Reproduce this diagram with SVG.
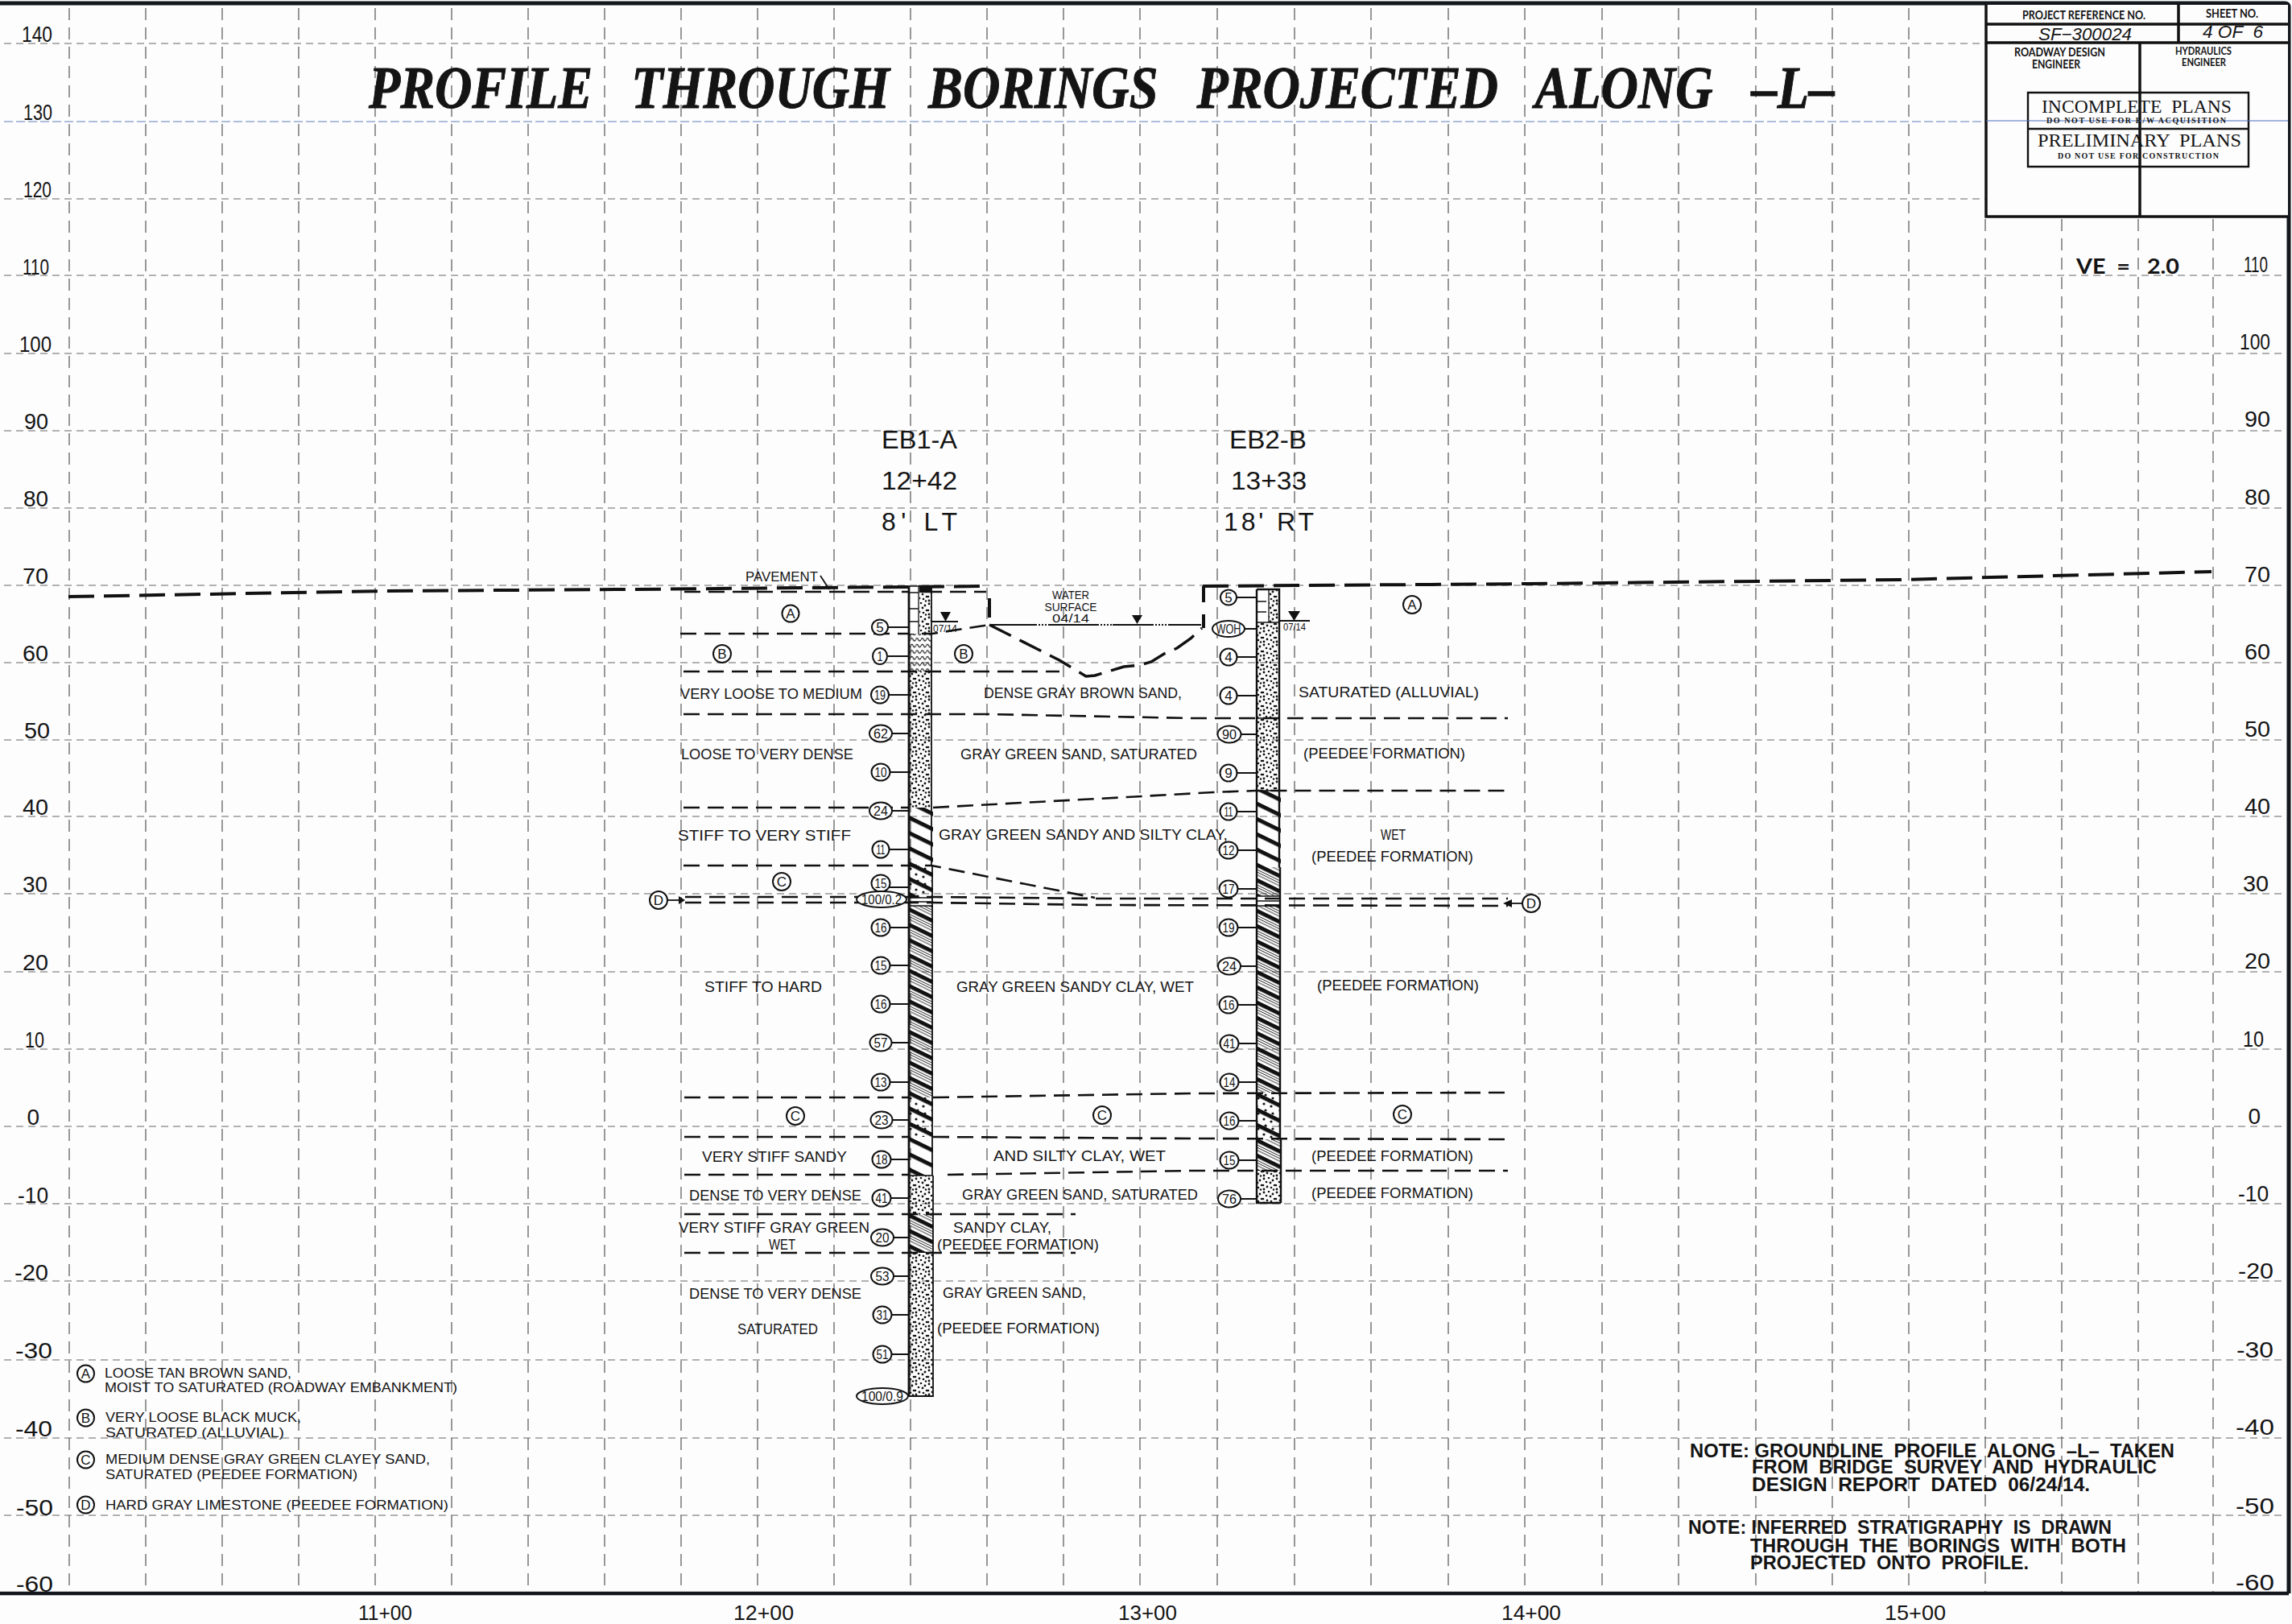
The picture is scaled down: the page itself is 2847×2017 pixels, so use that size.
<svg xmlns="http://www.w3.org/2000/svg" width="2847" height="2017" viewBox="0 0 2847 2017">
<style>
text{font-family:"Liberation Sans",Arial,sans-serif;fill:#141414;white-space:pre}
.gh{stroke:#666;stroke-width:1.2;stroke-dasharray:9 6;fill:none}
.gv{stroke:#555;stroke-width:1.2;stroke-dasharray:15 9;fill:none}
.s{stroke:#111;stroke-width:2.6;stroke-dasharray:20 10;fill:none}
.gr{stroke:#111;stroke-width:4;stroke-dasharray:32 12;fill:none}
.b{stroke:#111;fill:none}
.ax{font-size:28px}
.st{font-size:26px}
.lab{font-size:19px}
.sm{font-size:17px}
.bl{font-size:32px}
.c{font-size:17px;text-anchor:middle}
.cir{fill:#fff;stroke:#111;stroke-width:2}
.lead{stroke:#111;stroke-width:1.8}
.fut{font-family:Lato,"Liberation Sans",sans-serif;font-weight:700}
.ser{font-family:"Liberation Serif",serif;font-weight:700}
</style>
<defs>
<pattern id="dots" width="16" height="17" patternUnits="userSpaceOnUse">
<g fill="#111"><circle cx="2" cy="2" r="1.4"/><circle cx="8" cy="1" r="1.3"/><circle cx="13" cy="4" r="1.4"/><circle cx="5" cy="6" r="1.3"/><circle cx="10" cy="7" r="1.4"/><circle cx="1" cy="10" r="1.3"/><circle cx="15" cy="10" r="1.3"/><circle cx="6" cy="12" r="1.4"/><circle cx="11" cy="13" r="1.3"/><circle cx="2" cy="15" r="1.4"/><circle cx="14" cy="15.5" r="1.2"/></g>
</pattern>
<pattern id="sparse" width="18" height="19" patternUnits="userSpaceOnUse">
<g fill="#111"><circle cx="4" cy="3" r="1.6"/><circle cx="13" cy="6" r="1.6"/><circle cx="6" cy="11" r="1.6"/><circle cx="15" cy="15" r="1.6"/></g>
</pattern>
<pattern id="thick" width="30" height="19" patternUnits="userSpaceOnUse" patternTransform="skewY(26)">
<rect y="6" width="30" height="5.500" fill="#111"/>
</pattern>
<pattern id="mix" width="30" height="19" patternUnits="userSpaceOnUse" patternTransform="skewY(26)">
<rect y="6" width="30" height="5.500" fill="#111"/><rect y="14" width="30" height="0.900" fill="#111"/><rect y="17" width="30" height="0.900" fill="#111"/><rect y="1.500" width="30" height="0.900" fill="#111"/>
</pattern>
<pattern id="wave" width="6.500" height="7.600" patternUnits="userSpaceOnUse">
<path d="M0 4Q1.600 0.500 3.250 4T6.500 4" fill="none" stroke="#111" stroke-width="1.200"/>
</pattern>
</defs>
<rect width="2847" height="2017" fill="#fdfdfe"/>

<g id="grid">
<path class="gh" d="M5 54H2467M5 247H2467M5 342H2840M5 439H2840M5 535H2840M5 631H2840M5 727H2840M5 823H2840M5 919H2840M5 1014H2840M5 1110H2840M5 1207H2840M5 1303H2840M5 1399H2840M5 1495H2840M5 1591H2840M5 1689H2840M5 1786H2840M5 1882H2840"/>
<path d="M5 151H2467" fill="none" stroke="#5f7fb5" stroke-width="1.200" stroke-dasharray="11 4"/>
<path d="M2467 150H2840" fill="none" stroke="#4a6fc0" stroke-width="1.200"/>
<path class="gv" d="M86 10V1977M181 10V1977M276 10V1977M371 10V1977M466 10V1977M561 10V1977M656 10V1977M751 10V1977M846 10V1977M941 10V1977M1036 10V1977M1131 10V1977M1226 10V1977M1321 10V1977M1416 10V1977M1512 10V1977M1608 10V1977M1703 10V1977M1799 10V1977M1894 10V1977M1990 10V1977M2085 10V1977M2181 10V1977M2276 10V1977M2371 10V1977M2466 272V1977M2561 272V1977M2656 272V1977M2749 272V1977"/>
</g>

<g id="frame" fill="none" stroke="#14181c">
<path d="M0 4H2838Q2843 4 2843 9V1979" stroke-width="5"/>
<path d="M0 1979H2843" stroke-width="4.500"/>
</g>

<g id="title-block">
<rect x="2467" y="6" width="375" height="263" fill="#fdfdfe" stroke="none"/>
<path class="b" stroke-width="3.500" d="M2467 6V269H2842M2467 30H2842M2467 53H2842M2706 6V53M2658 53V269"/>
<path d="M2519 115H2793V207H2519ZM2519 160H2793" fill="none" stroke="#111" stroke-width="2.400"/>
<path d="M2467 150H2842" fill="none" stroke="#4a6fc0" stroke-width="1.200"/>
<text class="fut" x="2512" y="24" font-size="15" textLength="153" lengthAdjust="spacingAndGlyphs">PROJECT REFERENCE NO.</text>
<text class="fut" x="2740" y="22" font-size="15" textLength="65" lengthAdjust="spacingAndGlyphs">SHEET NO.</text>
<text x="2532" y="50" font-size="22" font-style="italic" textLength="116" lengthAdjust="spacingAndGlyphs">SF−300024</text>
<text x="2736" y="47" font-size="22" font-style="italic" textLength="75" lengthAdjust="spacingAndGlyphs">4 OF  6</text>
<text class="fut" x="2502" y="70" font-size="15" textLength="113" lengthAdjust="spacingAndGlyphs">ROADWAY DESIGN</text>
<text class="fut" x="2524" y="85" font-size="15" textLength="60" lengthAdjust="spacingAndGlyphs">ENGINEER</text>
<text class="fut" x="2702" y="68" font-size="14" textLength="70" lengthAdjust="spacingAndGlyphs">HYDRAULICS</text>
<text class="fut" x="2710" y="82" font-size="14" textLength="55" lengthAdjust="spacingAndGlyphs">ENGINEER</text>
<text x="2536" y="140" font-size="23" style="font-family:'Liberation Serif',serif" textLength="236" lengthAdjust="spacingAndGlyphs">INCOMPLETE  PLANS</text>
<text class="ser" x="2542" y="153" font-size="10" textLength="223" lengthAdjust="spacing">DO NOT USE FOR R/W ACQUISITION</text>
<text x="2531" y="182" font-size="23" style="font-family:'Liberation Serif',serif" textLength="253" lengthAdjust="spacingAndGlyphs">PRELIMINARY  PLANS</text>
<text class="ser" x="2556" y="197" font-size="10" textLength="200" lengthAdjust="spacing">DO NOT USE FOR CONSTRUCTION</text>
</g>

<text id="title" x="458" y="134" font-size="74" font-weight="700" font-style="italic" stroke="#141414" stroke-width="1" style="font-family:'Liberation Serif',serif" textLength="1821" lengthAdjust="spacingAndGlyphs">PROFILE   THROUGH   BORINGS   PROJECTED   ALONG   –L–</text>
<text id="ve" class="fut" x="2579" y="340" font-size="27" textLength="128" lengthAdjust="spacingAndGlyphs">VE  =   2.0</text>

<g id="elevations-left" class="ax" text-anchor="end">
<text x="65" y="52" textLength="38" lengthAdjust="spacingAndGlyphs">140</text>
<text x="65" y="149" textLength="36" lengthAdjust="spacingAndGlyphs">130</text>
<text x="64" y="245" textLength="35" lengthAdjust="spacingAndGlyphs">120</text>
<text x="61" y="341" textLength="33" lengthAdjust="spacingAndGlyphs">110</text>
<text x="64" y="437" textLength="40" lengthAdjust="spacingAndGlyphs">100</text>
<text x="60" y="533" textLength="30" lengthAdjust="spacingAndGlyphs">90</text>
<text x="60" y="629" textLength="31" lengthAdjust="spacingAndGlyphs">80</text>
<text x="60" y="725" textLength="32" lengthAdjust="spacingAndGlyphs">70</text>
<text x="60" y="821" textLength="32" lengthAdjust="spacingAndGlyphs">60</text>
<text x="62" y="917" textLength="32" lengthAdjust="spacingAndGlyphs">50</text>
<text x="60" y="1012" textLength="32" lengthAdjust="spacingAndGlyphs">40</text>
<text x="59" y="1108" textLength="31" lengthAdjust="spacingAndGlyphs">30</text>
<text x="60" y="1205" textLength="32" lengthAdjust="spacingAndGlyphs">20</text>
<text x="55" y="1301" textLength="24" lengthAdjust="spacingAndGlyphs">10</text>
<text x="49" y="1397" textLength="16">0</text>
<text x="60" y="1494" textLength="38" lengthAdjust="spacingAndGlyphs">-10</text>
<text x="60" y="1590" textLength="42" lengthAdjust="spacingAndGlyphs">-20</text>
<text x="65" y="1687" textLength="46" lengthAdjust="spacingAndGlyphs">-30</text>
<text x="65" y="1784" textLength="46" lengthAdjust="spacingAndGlyphs">-40</text>
<text x="66" y="1882" textLength="46" lengthAdjust="spacingAndGlyphs">-50</text>
<text x="66" y="1977" textLength="46" lengthAdjust="spacingAndGlyphs">-60</text>
</g>
<g id="elevations-right" class="ax" text-anchor="end">
<text x="2817" y="338" textLength="30" lengthAdjust="spacingAndGlyphs">110</text>
<text x="2820" y="434" textLength="38" lengthAdjust="spacingAndGlyphs">100</text>
<text x="2820" y="530" textLength="32" lengthAdjust="spacingAndGlyphs">90</text>
<text x="2820" y="627" textLength="32" lengthAdjust="spacingAndGlyphs">80</text>
<text x="2820" y="723" textLength="32" lengthAdjust="spacingAndGlyphs">70</text>
<text x="2820" y="819" textLength="32" lengthAdjust="spacingAndGlyphs">60</text>
<text x="2820" y="915" textLength="32" lengthAdjust="spacingAndGlyphs">50</text>
<text x="2820" y="1011" textLength="32" lengthAdjust="spacingAndGlyphs">40</text>
<text x="2818" y="1107" textLength="32" lengthAdjust="spacingAndGlyphs">30</text>
<text x="2820" y="1203" textLength="32" lengthAdjust="spacingAndGlyphs">20</text>
<text x="2812" y="1300" textLength="26" lengthAdjust="spacingAndGlyphs">10</text>
<text x="2808" y="1396" textLength="16">0</text>
<text x="2818" y="1492" textLength="38" lengthAdjust="spacingAndGlyphs">-10</text>
<text x="2824" y="1588" textLength="44" lengthAdjust="spacingAndGlyphs">-20</text>
<text x="2824" y="1686" textLength="46" lengthAdjust="spacingAndGlyphs">-30</text>
<text x="2825" y="1782" textLength="48" lengthAdjust="spacingAndGlyphs">-40</text>
<text x="2825" y="1880" textLength="48" lengthAdjust="spacingAndGlyphs">-50</text>
<text x="2825" y="1975" textLength="48" lengthAdjust="spacingAndGlyphs">-60</text>
</g>
<g id="stations" class="st">
<text x="445" y="2012" textLength="67" lengthAdjust="spacingAndGlyphs">11+00</text>
<text x="911" y="2012" textLength="75" lengthAdjust="spacingAndGlyphs">12+00</text>
<text x="1389" y="2012" textLength="73" lengthAdjust="spacingAndGlyphs">13+00</text>
<text x="1865" y="2012" textLength="74" lengthAdjust="spacingAndGlyphs">14+00</text>
<text x="2341" y="2012" textLength="76" lengthAdjust="spacingAndGlyphs">15+00</text>
</g>

<g id="connectors">
<path class="gr" d="M85 741L480 734L780 732L1229 728"/>
<path class="gr" stroke-dasharray="none" d="M1229 743V767"/>
<path class="gr" d="M1494 728L1900 725L2360 720L2747 710"/>
<path class="gr" stroke-dasharray="none" d="M1495 728V748M1495 763V780"/>
<path class="gr" style="stroke-width:3.400;stroke-dasharray:30 12" d="M1229 776L1316 820L1349 840L1360 839L1396 828L1416 826L1430 822L1446 812L1462 805L1479 793L1493 780"/>
<path stroke="#111" stroke-width="1.800" d="M1229 776H1492"/>
<path stroke="#fdfdfe" stroke-width="2" stroke-dasharray="2 2" d="M1288 776H1302M1365 776H1382M1433 776H1452"/>
<path d="M1406 764H1419L1412.500 775Z" fill="#111"/>
<path class="s" d="M850 735H1225"/>
<path class="s" d="M845 787H1158L1229 776"/>
<path class="s" d="M849 834H1316"/>
<path class="s" d="M849 887H1226L1480 892H1873"/>
<path class="s" d="M849 1003H1130M1159 1003L1400 990L1507 984L1560 982H1873"/>
<path class="s" d="M849 1075H1157L1360 1115"/>
<path class="s" d="M851 1114H1159L1360 1116H1873"/>
<path class="s" d="M851 1121H1159L1360 1124L1873 1125"/>
<path class="s" d="M850 1363H1130M1159 1363L1480 1358L1873 1357"/>
<path class="s" d="M850 1412H1130M1159 1412L1480 1414L1873 1415"/>
<path class="s" d="M850 1459H1130M1177 1459L1480 1454H1873"/>
<path class="s" d="M850 1508H1336"/>
<path class="s" d="M850 1556H1336"/>
<path class="lead" d="M1019 715L1030 732"/>
<path class="lead" d="M828 1118H846"/><path d="M851 1118L843 1113V1123Z" fill="#111"/>
<path class="lead" d="M1892 1122H1874"/><path d="M1867 1122L1878 1117V1127Z" fill="#111"/>
</g>

<g id="boring-EB1-A">
<rect x="1129" y="728" width="13" height="59" fill="#fff"/>
<rect x="1142" y="728" width="15" height="59" fill="url(#dots)"/>
<rect x="1142" y="728" width="15" height="8" fill="#111"/>
<rect x="1129" y="787" width="28" height="47" fill="url(#wave)"/>
<rect x="1129" y="834" width="28" height="169" fill="url(#dots)"/>
<rect x="1129" y="1003" width="30" height="72" fill="url(#thick)"/>
<rect x="1129" y="1075" width="30" height="40" fill="url(#thick)"/>
<rect x="1129" y="1075" width="28" height="40" fill="url(#sparse)"/>
<rect x="1129" y="1125" width="30" height="238" fill="url(#mix)"/>
<rect x="1129" y="1363" width="30" height="49" fill="url(#thick)"/>
<rect x="1129" y="1363" width="29" height="49" fill="url(#sparse)"/>
<rect x="1129" y="1412" width="30" height="48" fill="url(#thick)"/>
<rect x="1129" y="1460" width="29" height="48" fill="url(#dots)"/>
<rect x="1129" y="1508" width="30" height="48" fill="url(#mix)"/>
<rect x="1129" y="1556" width="30" height="178" fill="url(#dots)"/>
<path class="b" stroke-width="2.800" d="M1129 728V1734"/>
<path class="b" stroke-width="1.800" d="M1157 728V1075M1158 1075V1460M1159 1460V1734H1129"/>
<path class="b" stroke-width="1.300" d="M1129 728H1157M1141 728V787M1129 736H1141M1129 756H1141M1129 772H1141M1129 1115H1159M1129 1120H1159M1129 1125H1159M1129 1460H1159"/>
<path stroke="#111" stroke-width="1.800" d="M1157 772H1190"/>
<path d="M1168 760H1181L1174.500 772Z" fill="#111"/>
<text x="1159" y="785" font-size="12" textLength="30" lengthAdjust="spacingAndGlyphs">07/14</text>
</g>
<g id="spt-EB1-A">
<path class="lead" d="M1103 779H1128M1103 815H1128M1103 863H1128M1104 911H1128M1104 959H1128M1104 1007H1128M1104 1055H1128M1104 1102H1128M1104 1152H1128M1104 1199H1129M1104 1247H1129M1104 1295H1129M1104 1344H1129M1104 1391H1129M1104 1440H1129M1104 1488H1129M1104 1537H1129M1104 1585H1129M1104 1633H1129M1104 1682H1129"/>
<ellipse class="cir" cx="1093" cy="779" rx="10" ry="9.500"/><text x="1093" y="785" class="c">5</text>
<ellipse class="cir" cx="1093" cy="815" rx="9" ry="10"/><text x="1093" y="821" class="c" textLength="7" lengthAdjust="spacingAndGlyphs">1</text>
<ellipse class="cir" cx="1093" cy="863" rx="11" ry="10.500"/><text x="1093" y="869" class="c" textLength="14" lengthAdjust="spacingAndGlyphs">19</text>
<ellipse class="cir" cx="1094" cy="911" rx="14" ry="10.500"/><text x="1094" y="917" class="c" textLength="18" lengthAdjust="spacingAndGlyphs">62</text>
<ellipse class="cir" cx="1094" cy="959" rx="11.500" ry="10.500"/><text x="1094" y="965" class="c" textLength="15" lengthAdjust="spacingAndGlyphs">10</text>
<ellipse class="cir" cx="1094" cy="1007" rx="14" ry="10.500"/><text x="1094" y="1013" class="c" textLength="18" lengthAdjust="spacingAndGlyphs">24</text>
<ellipse class="cir" cx="1094" cy="1055" rx="10.500" ry="10.500"/><text x="1094" y="1061" class="c" textLength="11" lengthAdjust="spacingAndGlyphs">11</text>
<ellipse class="cir" cx="1094" cy="1097" rx="11.500" ry="10.500"/><text x="1094" y="1103" class="c" textLength="15" lengthAdjust="spacingAndGlyphs">15</text>
<ellipse class="cir" cx="1095" cy="1117" rx="31" ry="10"/><text x="1095" y="1123" class="c" textLength="50" lengthAdjust="spacingAndGlyphs">100/0.2</text>
<ellipse class="cir" cx="1094" cy="1152" rx="11.500" ry="10.500"/><text x="1094" y="1158" class="c" textLength="15" lengthAdjust="spacingAndGlyphs">16</text>
<ellipse class="cir" cx="1094" cy="1199" rx="11.500" ry="10.500"/><text x="1094" y="1205" class="c" textLength="15" lengthAdjust="spacingAndGlyphs">15</text>
<ellipse class="cir" cx="1094" cy="1247" rx="11.500" ry="10.500"/><text x="1094" y="1253" class="c" textLength="15" lengthAdjust="spacingAndGlyphs">16</text>
<ellipse class="cir" cx="1094" cy="1295" rx="13.500" ry="10.500"/><text x="1094" y="1301" class="c" textLength="17" lengthAdjust="spacingAndGlyphs">57</text>
<ellipse class="cir" cx="1094" cy="1344" rx="11.500" ry="10.500"/><text x="1094" y="1350" class="c" textLength="15" lengthAdjust="spacingAndGlyphs">13</text>
<ellipse class="cir" cx="1095" cy="1391" rx="13.500" ry="10.500"/><text x="1095" y="1397" class="c" textLength="17" lengthAdjust="spacingAndGlyphs">23</text>
<ellipse class="cir" cx="1095" cy="1440" rx="11.500" ry="10.500"/><text x="1095" y="1446" class="c" textLength="15" lengthAdjust="spacingAndGlyphs">18</text>
<ellipse class="cir" cx="1095" cy="1488" rx="11.500" ry="10.500"/><text x="1095" y="1494" class="c" textLength="15" lengthAdjust="spacingAndGlyphs">41</text>
<ellipse class="cir" cx="1096" cy="1537" rx="14" ry="10.500"/><text x="1096" y="1543" class="c" textLength="17" lengthAdjust="spacingAndGlyphs">20</text>
<ellipse class="cir" cx="1096" cy="1585" rx="14" ry="10.500"/><text x="1096" y="1591" class="c" textLength="17" lengthAdjust="spacingAndGlyphs">53</text>
<ellipse class="cir" cx="1096" cy="1633" rx="11.500" ry="10.500"/><text x="1096" y="1639" class="c" textLength="15" lengthAdjust="spacingAndGlyphs">31</text>
<ellipse class="cir" cx="1096" cy="1682" rx="11.500" ry="10.500"/><text x="1096" y="1688" class="c" textLength="15" lengthAdjust="spacingAndGlyphs">51</text>
<ellipse class="cir" cx="1096" cy="1734" rx="32" ry="10"/><text x="1096" y="1740" class="c" textLength="52" lengthAdjust="spacingAndGlyphs">100/0.9</text>
</g>

<g id="boring-EB2-B">
<rect x="1561" y="732" width="15" height="41" fill="#fff"/>
<rect x="1576" y="732" width="13" height="41" fill="url(#dots)"/>
<rect x="1561" y="773" width="28" height="209" fill="url(#dots)"/>
<rect x="1561" y="982" width="30" height="95" fill="url(#thick)"/>
<rect x="1561" y="1077" width="30" height="36" fill="url(#mix)"/>
<rect x="1561" y="1125" width="30" height="232" fill="url(#mix)"/>
<rect x="1561" y="1357" width="30" height="58" fill="url(#thick)"/>
<rect x="1561" y="1357" width="29" height="58" fill="url(#sparse)"/>
<rect x="1561" y="1415" width="30" height="39" fill="url(#mix)"/>
<rect x="1561" y="1454" width="30" height="40" fill="url(#dots)"/>
<path class="b" stroke-width="2.400" d="M1561 732V1494H1591M1561 732H1589V1077M1590 1077V1415M1591 1415V1494"/>
<path class="b" stroke-width="1.300" d="M1576 732V773M1561 773H1589M1561 747H1573M1561 760H1573M1561 892H1589M1561 982H1589M1561 1113H1590M1561 1119H1590M1561 1125H1590"/>
<path stroke="#111" stroke-width="1.800" d="M1589 771H1627"/>
<path d="M1600 759H1615L1607.500 771Z" fill="#111"/>
<text x="1594" y="783" font-size="12" textLength="28" lengthAdjust="spacingAndGlyphs">07/14</text>
</g>
<g id="spt-EB2-B">
<path class="lead" d="M1535 742H1560M1546 781H1560M1535 816H1560M1535 864H1560M1540 912H1560M1535 960H1560M1535 1008H1560M1535 1056H1560M1535 1104H1560M1535 1152H1560M1540 1200H1561M1535 1248H1561M1535 1296H1561M1535 1344H1561M1535 1392H1561M1535 1441H1561M1540 1489H1561"/>
<ellipse class="cir" cx="1526" cy="742" rx="10" ry="9.500"/><text x="1526" y="748" class="c">5</text>
<ellipse class="cir" cx="1526" cy="781" rx="20" ry="10"/><text x="1526" y="787" class="c" textLength="31" lengthAdjust="spacingAndGlyphs">WOH</text>
<ellipse class="cir" cx="1526" cy="816" rx="10.500" ry="10.500"/><text x="1526" y="822" class="c">4</text>
<ellipse class="cir" cx="1526" cy="864" rx="10.500" ry="10.500"/><text x="1526" y="870" class="c">4</text>
<ellipse class="cir" cx="1527" cy="912" rx="14.500" ry="10.500"/><text x="1527" y="918" class="c" textLength="18" lengthAdjust="spacingAndGlyphs">90</text>
<ellipse class="cir" cx="1526" cy="960" rx="10.500" ry="10.500"/><text x="1526" y="966" class="c">9</text>
<ellipse class="cir" cx="1526" cy="1008" rx="10.500" ry="10.500"/><text x="1526" y="1014" class="c" textLength="11" lengthAdjust="spacingAndGlyphs">11</text>
<ellipse class="cir" cx="1526" cy="1056" rx="11.500" ry="10.500"/><text x="1526" y="1062" class="c" textLength="15" lengthAdjust="spacingAndGlyphs">12</text>
<ellipse class="cir" cx="1526" cy="1104" rx="11.500" ry="10.500"/><text x="1526" y="1110" class="c" textLength="15" lengthAdjust="spacingAndGlyphs">17</text>
<ellipse class="cir" cx="1526" cy="1152" rx="11.500" ry="10.500"/><text x="1526" y="1158" class="c" textLength="15" lengthAdjust="spacingAndGlyphs">19</text>
<ellipse class="cir" cx="1527" cy="1200" rx="14" ry="10.500"/><text x="1527" y="1206" class="c" textLength="18" lengthAdjust="spacingAndGlyphs">24</text>
<ellipse class="cir" cx="1526" cy="1248" rx="11.500" ry="10.500"/><text x="1526" y="1254" class="c" textLength="15" lengthAdjust="spacingAndGlyphs">16</text>
<ellipse class="cir" cx="1527" cy="1296" rx="11.500" ry="10.500"/><text x="1527" y="1302" class="c" textLength="15" lengthAdjust="spacingAndGlyphs">41</text>
<ellipse class="cir" cx="1527" cy="1344" rx="11.500" ry="10.500"/><text x="1527" y="1350" class="c" textLength="15" lengthAdjust="spacingAndGlyphs">14</text>
<ellipse class="cir" cx="1527" cy="1392" rx="11.500" ry="10.500"/><text x="1527" y="1398" class="c" textLength="15" lengthAdjust="spacingAndGlyphs">16</text>
<ellipse class="cir" cx="1527" cy="1441" rx="11.500" ry="10.500"/><text x="1527" y="1447" class="c" textLength="15" lengthAdjust="spacingAndGlyphs">15</text>
<ellipse class="cir" cx="1527" cy="1489" rx="14" ry="10.500"/><text x="1527" y="1495" class="c" textLength="18" lengthAdjust="spacingAndGlyphs">76</text>
</g>

<g id="boring-headers" class="bl">
<text x="1095" y="557" textLength="94" lengthAdjust="spacingAndGlyphs">EB1-A</text>
<text x="1095" y="608" textLength="94" lengthAdjust="spacingAndGlyphs">12+42</text>
<text x="1095" y="659" textLength="94" lengthAdjust="spacing">8' LT</text>
<text x="1527" y="557" textLength="96" lengthAdjust="spacingAndGlyphs">EB2-B</text>
<text x="1529" y="608" textLength="94" lengthAdjust="spacingAndGlyphs">13+33</text>
<text x="1520" y="659" textLength="112" lengthAdjust="spacing">18' RT</text>
</g>

<g id="strata-symbols">
<circle class="cir" cx="982" cy="762" r="10.500"/><text x="982" y="768" class="c">A</text>
<circle class="cir" cx="897" cy="812" r="11"/><text x="897" y="818" class="c">B</text>
<circle class="cir" cx="1197" cy="812" r="11"/><text x="1197" y="818" class="c">B</text>
<circle class="cir" cx="971" cy="1095" r="11"/><text x="971" y="1101" class="c">C</text>
<circle class="cir" cx="988" cy="1386" r="11"/><text x="988" y="1392" class="c">C</text>
<circle class="cir" cx="1369" cy="1385" r="11"/><text x="1369" y="1391" class="c">C</text>
<circle class="cir" cx="1742" cy="1384" r="11"/><text x="1742" y="1390" class="c">C</text>
<circle class="cir" cx="1754" cy="751" r="11"/><text x="1754" y="757" class="c">A</text>
<circle class="cir" cx="818" cy="1118" r="11"/><text x="818" y="1124" class="c">D</text>
<circle class="cir" cx="1902" cy="1122" r="11"/><text x="1902" y="1128" class="c">D</text>
</g>

<g id="strata-labels" class="lab">
<text class="sm" x="926" y="722" textLength="90" lengthAdjust="spacingAndGlyphs">PAVEMENT</text>
<text x="1330" y="744" font-size="14" text-anchor="middle" textLength="46" lengthAdjust="spacingAndGlyphs">WATER</text>
<text x="1330" y="759" font-size="14" text-anchor="middle" textLength="65" lengthAdjust="spacingAndGlyphs">SURFACE</text>
<text x="1330" y="773" font-size="14" text-anchor="middle" textLength="46" lengthAdjust="spacingAndGlyphs">04/14</text>
<text x="845" y="868" textLength="226" lengthAdjust="spacingAndGlyphs">VERY LOOSE TO MEDIUM</text>
<text x="1222" y="867" textLength="246" lengthAdjust="spacingAndGlyphs">DENSE GRAY BROWN SAND,</text>
<text x="1613" y="866" textLength="224" lengthAdjust="spacingAndGlyphs">SATURATED (ALLUVIAL)</text>
<text x="846" y="943" textLength="214" lengthAdjust="spacingAndGlyphs">LOOSE TO VERY DENSE</text>
<text x="1193" y="943" textLength="294" lengthAdjust="spacingAndGlyphs">GRAY GREEN SAND, SATURATED</text>
<text x="1619" y="942" textLength="201" lengthAdjust="spacingAndGlyphs">(PEEDEE FORMATION)</text>
<text x="842" y="1044" textLength="215" lengthAdjust="spacingAndGlyphs">STIFF TO VERY STIFF</text>
<text x="1166" y="1043" textLength="359" lengthAdjust="spacingAndGlyphs">GRAY GREEN SANDY AND SILTY CLAY,</text>
<text x="1715" y="1043" textLength="31" lengthAdjust="spacingAndGlyphs">WET</text>
<text x="1629" y="1070" textLength="201" lengthAdjust="spacingAndGlyphs">(PEEDEE FORMATION)</text>
<text x="875" y="1232" textLength="146" lengthAdjust="spacingAndGlyphs">STIFF TO HARD</text>
<text x="1188" y="1232" textLength="295" lengthAdjust="spacingAndGlyphs">GRAY GREEN SANDY CLAY, WET</text>
<text x="1636" y="1230" textLength="201" lengthAdjust="spacingAndGlyphs">(PEEDEE FORMATION)</text>
<text x="872" y="1443" textLength="180" lengthAdjust="spacingAndGlyphs">VERY STIFF SANDY</text>
<text x="1234" y="1442" textLength="214" lengthAdjust="spacingAndGlyphs">AND SILTY CLAY, WET</text>
<text x="1629" y="1442" textLength="201" lengthAdjust="spacingAndGlyphs">(PEEDEE FORMATION)</text>
<text x="856" y="1491" textLength="214" lengthAdjust="spacingAndGlyphs">DENSE TO VERY DENSE</text>
<text x="1195" y="1490" textLength="293" lengthAdjust="spacingAndGlyphs">GRAY GREEN SAND, SATURATED</text>
<text x="1629" y="1488" textLength="201" lengthAdjust="spacingAndGlyphs">(PEEDEE FORMATION)</text>
<text x="843" y="1531" textLength="237" lengthAdjust="spacingAndGlyphs">VERY STIFF GRAY GREEN</text>
<text x="955" y="1552" textLength="33" lengthAdjust="spacingAndGlyphs">WET</text>
<text x="1184" y="1531" textLength="122" lengthAdjust="spacingAndGlyphs">SANDY CLAY,</text>
<text x="1164" y="1552" textLength="201" lengthAdjust="spacingAndGlyphs">(PEEDEE FORMATION)</text>
<text x="856" y="1613" textLength="214" lengthAdjust="spacingAndGlyphs">DENSE TO VERY DENSE</text>
<text x="1171" y="1612" textLength="178" lengthAdjust="spacingAndGlyphs">GRAY GREEN SAND,</text>
<text x="916" y="1657" textLength="100" lengthAdjust="spacingAndGlyphs">SATURATED</text>
<text x="1164" y="1656" textLength="202" lengthAdjust="spacingAndGlyphs">(PEEDEE FORMATION)</text>
</g>

<g id="legend" class="sm">
<circle class="cir" cx="106.500" cy="1706" r="10.500"/><text x="106.500" y="1712" class="c">A</text>
<text x="130" y="1711" textLength="232" lengthAdjust="spacingAndGlyphs">LOOSE TAN BROWN SAND,</text>
<text x="130" y="1729" textLength="438" lengthAdjust="spacingAndGlyphs">MOIST TO SATURATED (ROADWAY EMBANKMENT)</text>
<circle class="cir" cx="106.500" cy="1761" r="10.500"/><text x="106.500" y="1767" class="c">B</text>
<text x="131" y="1766" textLength="243" lengthAdjust="spacingAndGlyphs">VERY LOOSE BLACK MUCK,</text>
<text x="131" y="1785" textLength="222" lengthAdjust="spacingAndGlyphs">SATURATED (ALLUVIAL)</text>
<circle class="cir" cx="106.500" cy="1813" r="10.500"/><text x="106.500" y="1819" class="c">C</text>
<text x="131" y="1818" textLength="403" lengthAdjust="spacingAndGlyphs">MEDIUM DENSE GRAY GREEN CLAYEY SAND,</text>
<text x="131" y="1837" textLength="313" lengthAdjust="spacingAndGlyphs">SATURATED (PEEDEE FORMATION)</text>
<circle class="cir" cx="106.500" cy="1869" r="10.500"/><text x="106.500" y="1875" class="c">D</text>
<text x="131" y="1875" textLength="426" lengthAdjust="spacingAndGlyphs">HARD GRAY LIMESTONE (PEEDEE FORMATION)</text>
</g>

<g id="notes" class="fut" font-size="23">
<text x="2099" y="1810" textLength="602" lengthAdjust="spacingAndGlyphs">NOTE: GROUNDLINE  PROFILE  ALONG  –L–  TAKEN</text>
<text x="2176" y="1830" textLength="503" lengthAdjust="spacingAndGlyphs">FROM  BRIDGE  SURVEY  AND  HYDRAULIC</text>
<text x="2176" y="1852" textLength="420" lengthAdjust="spacingAndGlyphs">DESIGN  REPORT  DATED  06/24/14.</text>
<text x="2097" y="1905" textLength="526" lengthAdjust="spacingAndGlyphs">NOTE: INFERRED  STRATIGRAPHY  IS  DRAWN</text>
<text x="2174" y="1928" textLength="467" lengthAdjust="spacingAndGlyphs">THROUGH  THE  BORINGS  WITH  BOTH</text>
<text x="2174" y="1949" textLength="346" lengthAdjust="spacingAndGlyphs">PROJECTED  ONTO  PROFILE.</text>
</g>
</svg>
